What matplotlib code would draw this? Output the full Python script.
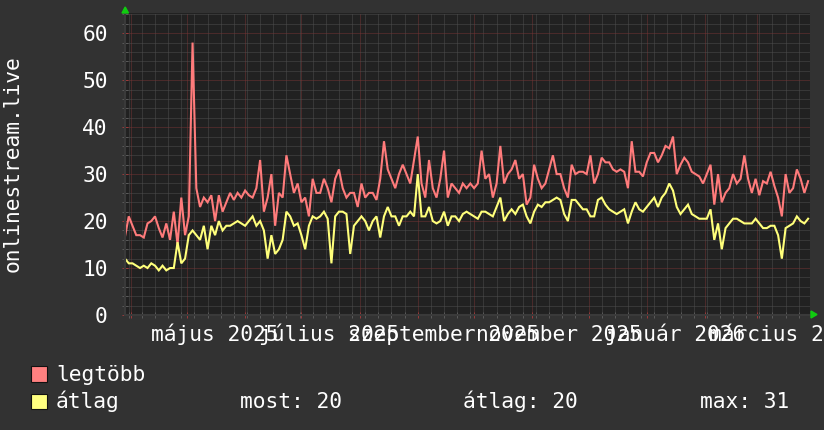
import matplotlib
matplotlib.use('Agg')
import matplotlib.pyplot as plt
import matplotlib.dates as mdates
import matplotlib.transforms as mtransforms
from matplotlib.patches import Rectangle, Polygon
from matplotlib.ticker import MultipleLocator
import pandas as pd

# napi adatok, 2 naponkent olvasva a kepről
kezdet = '2025-03-29'
veg = '2026-03-29'

legtobb = [16.7, 21, 19, 17, 17, 16.5, 19.5, 20, 21, 18.5, 16.5,
           19.5, 16, 22, 15, 25, 17, 21, 58, 27, 23,
           25, 24, 25.5, 20, 25.5, 22, 24, 26, 24.5, 26,
           25, 26.5, 25.5, 25, 27, 33, 22, 25, 30, 19,
           26, 25, 34, 30, 26, 28, 24, 25, 21, 29,
           26, 26, 29, 27, 24, 29, 31, 27, 25, 26,
           26, 23, 28, 25, 26, 26, 24.5, 29, 37, 31,
           29, 27, 30, 32, 30, 28, 33, 38, 28, 25,
           33, 27, 25, 29, 35, 25, 28, 27, 26, 28,
           27, 28, 27, 28, 35, 29, 30, 25, 28, 36,
           28, 30, 31, 33, 29, 30, 23.5, 25, 32, 29,
           27, 28, 31, 34, 30, 30, 27, 25, 32, 30,
           30.5, 30.5, 30, 34, 28, 30, 33.5, 32.5, 32.5, 31,
           30.5, 31, 30.5, 27, 37, 30.5, 30.5, 29.5, 32.5, 34.5,
           34.5, 32.5, 34, 36, 35.5, 38, 30, 32, 33.5, 32.5,
           30.5, 30, 29.5, 28, 30, 32, 23.5, 30, 24, 26,
           27, 30, 28, 29, 34, 29, 26, 29, 25.5, 28.5,
           28, 30.5, 27.5, 25, 21, 30, 26, 27, 31, 29,
           26, 28.5]

atlag = [12, 11, 11, 10.5, 10, 10.5, 10, 11, 10.5, 9.5, 10.5,
         9.5, 10, 10, 15.5, 11, 12, 17, 18, 17, 16,
         19, 14, 19, 17, 20, 18, 19, 19, 19.5, 20,
         19.5, 19, 20, 21, 19, 20, 18, 12, 17, 13,
         14, 16, 22, 21, 19, 19.5, 17, 14, 19, 21,
         20.5, 21, 22, 20.5, 11, 21, 22, 22, 21.5, 13,
         19, 20, 21, 20, 18, 20, 21, 16.5, 21, 23,
         21, 21, 19, 21, 21, 22, 21, 30, 21, 21,
         23, 20, 19.5, 20, 22, 19, 21, 21, 20, 21.5,
         22, 21.5, 21, 20.5, 22, 22, 21.5, 21, 23, 25,
         20, 21.5, 22.5, 21.5, 23, 23.5, 21, 19.5, 22, 23.5,
         23, 24, 24, 24.5, 25, 24.5, 21.5, 20, 24.5, 24.5,
         23.5, 22.5, 22.5, 21, 21, 24.5, 25, 23.5, 22.5, 22,
         21.5, 22, 22.5, 19.5, 22, 24, 22.5, 22, 23, 24,
         25, 23, 25, 26, 28, 26.5, 23, 21.5, 22.5, 23.5,
         21.5, 21, 20.5, 20.5, 20.5, 22.5, 16, 19.5, 14, 18.5,
         19.5, 20.5, 20.5, 20, 19.5, 19.5, 19.5, 20.5, 19.5, 18.5,
         18.5, 19, 19, 17, 12, 18.5, 19, 19.5, 21, 20,
         19.5, 20.5]

cimkek = ['május 2025', 'július 2025', 'szeptember 2025',
          'november 2025', 'január 2026', 'március 2026']
cimke_datum = ['2025-05-16', '2025-07-16', '2025-09-15',
               '2025-11-15', '2026-01-16', '2026-03-16']
y_cim = 'onlinestream.live'
most_ertek = 20
atlag_ertek = 20
max_ertek = 31

W, H = 824, 430
BG = '#323232'
PLOT_BG = '#212121'
PIROS = '#ff7b7b'
SARGA = '#ffff7b'

plt.rcParams['font.family'] = ['DejaVu Sans Mono']
FS = 15.3


def fpx(x, y):
    return (x / W, 1 - y / H)


datumok = pd.date_range(kezdet, periods=len(legtobb), freq='2D')

fig = plt.figure(figsize=(W / 100, H / 100), dpi=100, facecolor=BG)
ax = fig.add_axes([125 / W, 1 - 315 / H, 685 / W, 302 / H])
ax.set_facecolor(PLOT_BG)

ax.plot(datumok, legtobb, color=PIROS, lw=1.5, solid_joinstyle='miter')
ax.plot(datumok, atlag, color=SARGA, lw=1.5, solid_joinstyle='miter')

ax.set_xlim(pd.Timestamp(kezdet), pd.Timestamp(veg))
ax.set_ylim(0, 64.3)

ax.xaxis.set_major_locator(mdates.MonthLocator())
ax.xaxis.set_minor_locator(mdates.WeekdayLocator(byweekday=mdates.MO))
ax.yaxis.set_major_locator(MultipleLocator(10))
ax.yaxis.set_minor_locator(MultipleLocator(2))

ax.set_axisbelow(True)
ax.grid(which='minor', color='#4e4e4e', lw=0.72, ls=(0, (1, 1)))
ax.grid(which='major', color='#743434', lw=0.72, ls=(0, (1, 1)))

ax.tick_params(axis='both', which='major', direction='inout', length=4,
               width=0.72, color='#9a3a3a')
ax.tick_params(axis='both', which='minor', direction='inout', length=4,
               width=0.72, color='#5a5a5a')
ax.tick_params(axis='x', labelbottom=False)
ax.tick_params(axis='y', which='major', labelsize=FS, labelcolor='white', pad=10.5)

for s in ['top', 'right']:
    ax.spines[s].set_visible(False)
for s in ['left', 'bottom']:
    ax.spines[s].set_color('#3a3a3a')
    ax.spines[s].set_linewidth(1.5)

# honap cimkek a honap kozepen
tr = mtransforms.blended_transform_factory(ax.transData, fig.transFigure)
for c, d in zip(cimkek, cimke_datum):
    ax.text(pd.Timestamp(d), 1 - 341 / H, c, transform=tr, ha='center',
            va='baseline', color='white', fontsize=FS, clip_on=False)

fig.text(12.5 / W, 1 - 164 / H, y_cim, rotation=90, ha='center', va='center',
         color='white', fontsize=FS)

# zold nyilak
fig.add_artist(Polygon([fpx(122, 13), fpx(128.5, 13), fpx(125.2, 7)],
                       closed=True, color='#10cc10', transform=fig.transFigure))
fig.add_artist(Polygon([fpx(811, 311), fpx(811, 318), fpx(817, 314.5)],
                       closed=True, color='#10cc10', transform=fig.transFigure))

# jelmagyarazat
for y0, col in [(366, '#ff8080'), (393.5, '#ffff80')]:
    x0, y1 = fpx(31.5, y0 + 15.5)
    fig.add_artist(Rectangle((x0, y1), 16 / W, 15.5 / H, facecolor=col,
                             edgecolor='#111111', lw=0.8, transform=fig.transFigure))

fig.text(*fpx(56, 381), 'legtöbb', color='white', fontsize=FS, va='baseline')
fig.text(*fpx(56, 408), 'átlag', color='white', fontsize=FS, va='baseline')
fig.text(*fpx(240.5, 408), f'most: {most_ertek}', color='white', fontsize=FS, va='baseline')
fig.text(*fpx(463, 408), f'átlag: {atlag_ertek}', color='white', fontsize=FS, va='baseline')
fig.text(*fpx(700.5, 408), f'max: {max_ertek}', color='white', fontsize=FS, va='baseline')

fig.savefig('out.png', dpi=100, facecolor=BG)
